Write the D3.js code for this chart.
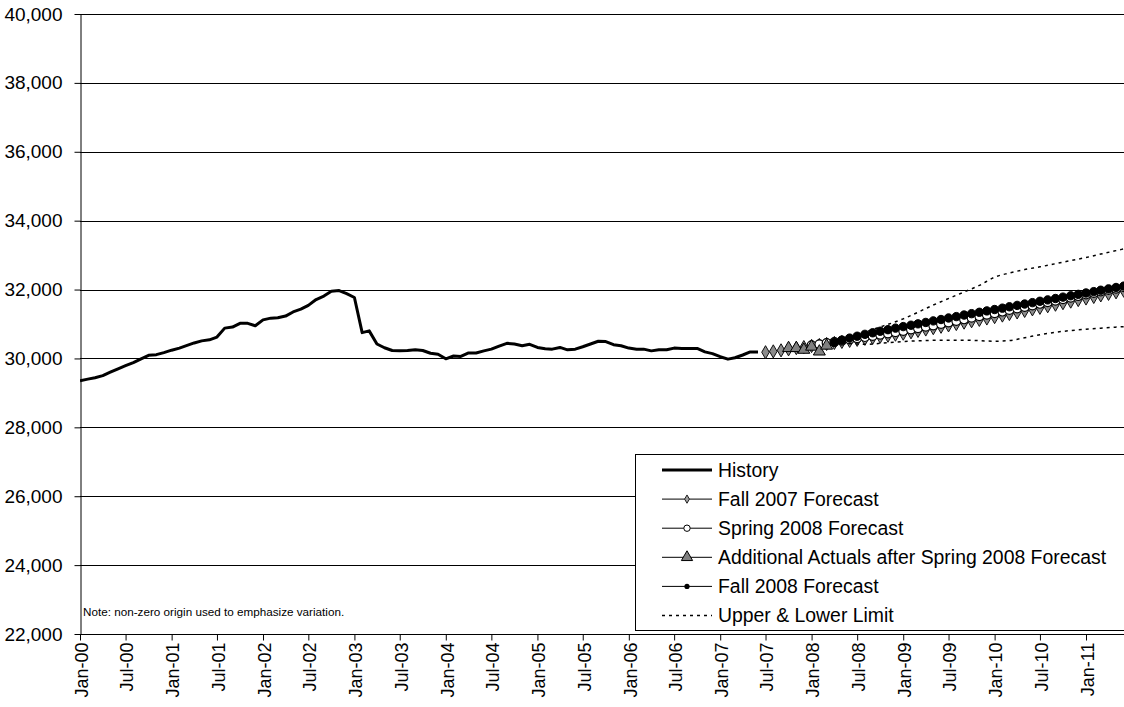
<!DOCTYPE html>
<html>
<head>
<meta charset="utf-8">
<script src="https://cdn.jsdelivr.net/npm/d3@7"></script>
<style>
  html, body { margin: 0; padding: 0; background: #fff; }
  svg { display: block; font-family: Arial, "Liberation Sans", sans-serif; }
</style>
</head>
<body>
<svg id="chart" width="1124" height="707"></svg>
<script>
// ---- Data -------------------------------------------------------------
const yTicks = [22000, 24000, 26000, 28000, 30000, 32000, 34000, 36000, 38000, 40000];
const xTickLabels = ["Jan-00","Jul-00","Jan-01","Jul-01","Jan-02","Jul-02","Jan-03","Jul-03",
  "Jan-04","Jul-04","Jan-05","Jul-05","Jan-06","Jul-06","Jan-07","Jul-07","Jan-08","Jul-08",
  "Jan-09","Jul-09","Jan-10","Jul-10","Jan-11"];

// Monthly history, Jan-00 onward
const historyStart = "Jan-00";
const historyValues = [
  29355, 29400, 29440, 29500, 29600, 29700, 29790, 29880, 29990, 30090, 30110, 30170,
  30240, 30300, 30370, 30450, 30510, 30540, 30620, 30880, 30910, 31020, 31020, 30950,
  31120, 31170, 31180, 31230, 31350, 31430, 31540, 31710, 31810, 31950, 31970, 31880,
  31770, 30750, 30800, 30420, 30310, 30230, 30220, 30230, 30250, 30230, 30150, 30120,
  29990, 30070, 30060, 30160, 30160, 30220, 30270, 30360, 30440, 30420, 30370, 30410,
  30320, 30280, 30270, 30320, 30250, 30270, 30340, 30420, 30500, 30490, 30400, 30370,
  30300, 30270, 30270, 30220, 30250, 30250, 30300, 30290, 30290, 30290, 30190, 30140,
  30050, 29980, 30020, 30100, 30190, 30190
];

// Fall 2007 forecast, monthly from Jul-07
const fall2007Start = "Jul-07";
const fall2007Values = [
  30180, 30205, 30235, 30265, 30300, 30330, 30360, 30390, 30420, 30450, 30480, 30510,
  30540, 30570, 30600, 30630, 30660, 30690, 30720, 30760, 30800, 30840, 30880, 30920,
  30960, 31000, 31040, 31080, 31120, 31160, 31200, 31245, 31290, 31335, 31380, 31425,
  31470, 31515, 31560, 31605, 31650, 31695, 31740, 31785, 31830, 31875, 31920, 31965
];

// Spring 2008 forecast, monthly from Jan-08
const spring2008Start = "Jan-08";
const spring2008Values = [
  30380, 30410, 30445, 30480, 30515, 30550, 30585, 30620, 30655, 30690, 30725, 30760,
  30800, 30840, 30880, 30920, 30960, 31000, 31045, 31090, 31135, 31180, 31225, 31270,
  31315, 31360, 31405, 31450, 31495, 31540, 31585, 31630, 31675, 31720, 31765, 31810,
  31855, 31900, 31945, 31985, 32025, 32065
];

// Actuals received after the Spring 2008 forecast, monthly from Oct-07
const actualsStart = "Oct-07";
const actualsValues = [30300, 30300, 30250, 30340, 30200, 30370];

// Fall 2008 forecast, monthly from Apr-08
const fall2008Start = "Apr-08";
const fall2008Values = [
  30470, 30530, 30590, 30645, 30700, 30745, 30790, 30835, 30880, 30925, 30965, 31005,
  31045, 31090, 31130, 31175, 31215, 31260, 31300, 31340, 31380, 31420, 31460, 31500,
  31540, 31580, 31620, 31660, 31700, 31740, 31780, 31820, 31860, 31900, 31940, 31980,
  32020, 32060, 32100
];

// Upper and lower limits
const upperMonths = ["May-08","Sep-08","Jan-09","May-09","Sep-09","Nov-09","Jan-10","Mar-10",
  "May-10","Jul-10","Sep-10","Nov-10","Jan-11","Mar-11","May-11","Jul-11"];
const upperValues = [30530, 30840, 31150, 31550, 31930, 32120, 32360, 32480,
  32580, 32660, 32750, 32840, 32930, 33030, 33130, 33230];
const lowerMonths = ["May-08","Aug-08","Nov-08","Jan-09","May-09","Sep-09","Jan-10","Mar-10",
  "May-10","Jul-10","Sep-10","Nov-10","Jan-11","Mar-11","May-11","Jul-11"];
const lowerValues = [30470, 30410, 30460, 30490, 30525, 30530, 30500, 30520,
  30600, 30690, 30760, 30810, 30850, 30880, 30910, 30935];

const legendLabels = ["History", "Fall 2007 Forecast", "Spring 2008 Forecast",
  "Additional Actuals after Spring 2008 Forecast", "Fall 2008 Forecast", "Upper & Lower Limit"];
const noteText = "Note: non-zero origin used to emphasize variation.";

// ---- Helpers ----------------------------------------------------------
const parseMonth = d3.timeParse("%b-%y");
function monthly(start, values) {
  const s = parseMonth(start);
  return values.map((v, i) => ({ date: d3.timeMonth.offset(s, i), value: v }));
}
function paired(months, values) {
  return months.map((m, i) => ({ date: parseMonth(m), value: values[i] }));
}

const history = monthly(historyStart, historyValues);
const fall2007 = monthly(fall2007Start, fall2007Values);
const spring2008 = monthly(spring2008Start, spring2008Values);
const actuals = monthly(actualsStart, actualsValues);
const fall2008 = monthly(fall2008Start, fall2008Values);
const upper = paired(upperMonths, upperValues);
const lower = paired(lowerMonths, lowerValues);

// ---- Layout -----------------------------------------------------------
const W = 1124, H = 707;
const plotLeft = 80, plotTop = 14, plotBottom = 634, plotRight = W;
const FONT = "Arial, 'Liberation Sans', sans-serif";

const svg = d3.select("#chart");

const x = d3.scaleTime()
  .domain([parseMonth("Jan-00"), parseMonth("Jan-11")])
  .range([plotLeft, 1086]);
const y = d3.scaleLinear()
  .domain([22000, 40000])
  .range([plotBottom, plotTop]);

svg.append("defs").append("clipPath").attr("id", "plotClip")
  .append("rect").attr("x", plotLeft).attr("y", 0)
  .attr("width", plotRight - plotLeft).attr("height", H);

// Gridlines
svg.append("g").selectAll("line").data(yTicks.filter(v => v > 22000)).join("line")
  .attr("x1", plotLeft).attr("x2", plotRight)
  .attr("y1", d => Math.round(y(d)) + 0.5).attr("y2", d => Math.round(y(d)) + 0.5)
  .attr("stroke", "#000").attr("stroke-width", 1);

// Y axis
const yAxis = d3.axisLeft(y).tickValues(yTicks).tickSize(6).tickSizeOuter(0)
  .tickFormat(d3.format(","));
const gy = svg.append("g").attr("transform", `translate(${plotLeft + 0.5},0)`).call(yAxis);
gy.select(".domain").attr("stroke", "#000");
gy.selectAll(".tick line").attr("stroke", "#000");
gy.selectAll(".tick text").attr("font-size", 19).attr("fill", "#000")
  .attr("font-family", FONT).attr("x", -18);

// X axis
const xTickDates = xTickLabels.map(parseMonth);
const xAxis = d3.axisBottom(x).tickValues(xTickDates).tickSize(6).tickSizeOuter(0)
  .tickFormat((d, i) => xTickLabels[i]);
const gx = svg.append("g").attr("transform", `translate(0,${plotBottom + 0.5})`).call(xAxis);
gx.select(".domain").remove();
gx.append("line").attr("x1", plotLeft).attr("x2", plotRight).attr("y1", 0).attr("y2", 0)
  .attr("stroke", "#000");
gx.selectAll(".tick line").attr("stroke", "#000");
gx.selectAll(".tick text")
  .attr("font-size", 18).attr("fill", "#000")
  .attr("font-family", FONT)
  .attr("transform", "rotate(-90)")
  .attr("text-anchor", "end")
  .attr("x", -8).attr("y", 1).attr("dy", "0.35em");

// ---- Series -----------------------------------------------------------
const plot = svg.append("g").attr("clip-path", "url(#plotClip)");
const line = d3.line().x(d => x(d.date)).y(d => y(d.value));
const smooth = d3.line().x(d => x(d.date)).y(d => y(d.value)).curve(d3.curveMonotoneX);

const diamond = d3.symbol().type(d3.symbolDiamond).size(50);
const triangle = d3.symbol().type(d3.symbolTriangle).size(62);

// History
plot.append("path").datum(history).attr("d", line)
  .attr("fill", "none").attr("stroke", "#000").attr("stroke-width", 3)
  .attr("stroke-linejoin", "round");

// Fall 2007 forecast
plot.append("path").datum(fall2007).attr("d", line)
  .attr("fill", "none").attr("stroke", "#000").attr("stroke-width", 1);
plot.append("g").selectAll("path").data(fall2007).join("path")
  .attr("d", diamond)
  .attr("transform", d => `translate(${x(d.date)},${y(d.value)})`)
  .attr("fill", "#8c8c8c").attr("stroke", "#111").attr("stroke-width", 1);

// Spring 2008 forecast
plot.append("path").datum(spring2008).attr("d", line)
  .attr("fill", "none").attr("stroke", "#000").attr("stroke-width", 1);
plot.append("g").selectAll("circle").data(spring2008).join("circle")
  .attr("cx", d => x(d.date)).attr("cy", d => y(d.value)).attr("r", 4.4)
  .attr("fill", "#fff").attr("stroke", "#000").attr("stroke-width", 1.2);

// Additional actuals
plot.append("g").selectAll("path").data(actuals).join("path")
  .attr("d", triangle)
  .attr("transform", d => `translate(${x(d.date)},${y(d.value)})`)
  .attr("fill", "#808080").attr("stroke", "#000").attr("stroke-width", 1);

// Fall 2008 forecast
plot.append("path").datum(fall2008).attr("d", line)
  .attr("fill", "none").attr("stroke", "#000").attr("stroke-width", 1);
plot.append("g").selectAll("circle").data(fall2008).join("circle")
  .attr("cx", d => x(d.date)).attr("cy", d => y(d.value)).attr("r", 4.2)
  .attr("fill", "#000").attr("stroke", "#000").attr("stroke-width", 1);

// Limits
[upper, lower].forEach(series => {
  plot.append("path").datum(series).attr("d", smooth)
    .attr("fill", "none").attr("stroke", "#000").attr("stroke-width", 1.5)
    .attr("stroke-dasharray", "3,4");
});

// Note
svg.append("text").attr("x", 83).attr("y", 616)
  .attr("font-size", 11.7).attr("fill", "#000").text(noteText);

// ---- Legend -----------------------------------------------------------
const lg = svg.append("g");
lg.append("rect").attr("x", 635.5).attr("y", 454.5).attr("width", 520).attr("height", 176)
  .attr("fill", "#fff").attr("stroke", "#000").attr("stroke-width", 1);
const ly0 = 470, ldy = 29.1, lx1 = 662, lx2 = 712, lmid = 687;
legendLabels.forEach((lab, i) => {
  const yy = ly0 + i * ldy;
  const g = lg.append("g");
  const ln = g.append("line").attr("x1", lx1).attr("x2", lx2).attr("y1", yy).attr("y2", yy)
    .attr("stroke", "#000");
  if (i === 0) ln.attr("stroke-width", 3);
  else if (i === 5) ln.attr("stroke-width", 1.5).attr("stroke-dasharray", "3,4");
  else ln.attr("stroke-width", 1);
  if (i === 1) g.append("path").attr("d", d3.symbol().type(d3.symbolDiamond).size(20))
    .attr("transform", `translate(${lmid},${yy})`).attr("fill", "#a0a0a0").attr("stroke", "#222");
  if (i === 2) g.append("circle").attr("cx", lmid).attr("cy", yy).attr("r", 3.2)
    .attr("fill", "#fff").attr("stroke", "#000");
  if (i === 3) g.append("path").attr("d", d3.symbol().type(d3.symbolTriangle).size(55))
    .attr("transform", `translate(${lmid},${yy})`).attr("fill", "#808080").attr("stroke", "#000");
  if (i === 4) g.append("circle").attr("cx", lmid).attr("cy", yy).attr("r", 2.6)
    .attr("fill", "#000");
  g.append("text").attr("x", 718).attr("y", yy).attr("dy", "0.35em")
    .attr("font-size", 19.4).attr("fill", "#000").text(lab);
});
</script>
</body>
</html>
